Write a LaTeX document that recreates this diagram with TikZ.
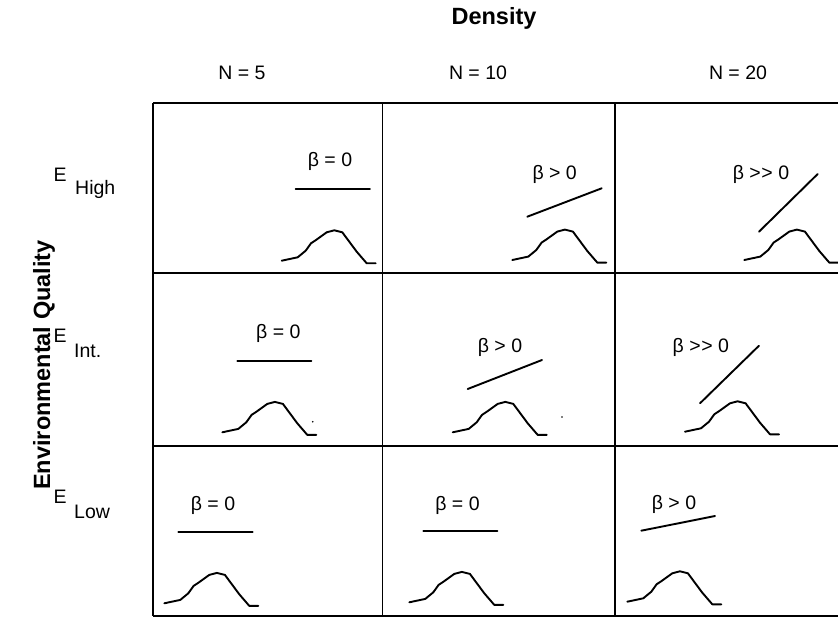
\documentclass[tikz,border=0pt]{standalone}
\usepackage{fontspec}
\setmainfont[Ligatures=NoCommon]{Liberation Sans}
\newcommand\mygg{>\kern0.6pt>}
\begin{document}
\begin{tikzpicture}[x=1pt,y=-1pt,
  gridline/.style={line width=1.3pt},
  hump/.style={line width=1.9pt,line join=round,line cap=round},
  slope/.style={line width=1.9pt,line cap=round},
  lab/.style={inner sep=0pt,anchor=base,font=\fontsize{19.5}{20}\selectfont},
  head/.style={inner sep=0pt,anchor=base,font=\fontsize{19.5}{20}\selectfont},
  axis/.style={inner sep=0pt,anchor=base,font=\fontsize{23.5}{24}\selectfont\bfseries},
  elab/.style={inner sep=0pt,anchor=base west,font=\fontsize{19.5}{20}\selectfont}]
\useasboundingbox (0,0) rectangle (838,617);
\clip (0,0) rectangle (838,617);
\fill[white] (0,0) rectangle (838,617);
% grid
\draw[gridline] (153,103) -- (846,103);
\draw[gridline] (153,273) -- (846,273);
\draw[gridline] (153,446) -- (846,446);
\draw[gridline] (153,616) -- (846,616);
\draw[gridline] (153,103) -- (153,616);
\draw[gridline] (382.5,103) -- (382.5,616);
\draw[gridline] (615,103) -- (615,616);
\newcommand\humpat[2]{\begin{scope}[shift={(#1,#2)}]
  \draw[hump] (0,0) -- (16,-3.4) -- (24,-10) -- (29.3,-17.4) -- (34.3,-20.7) -- (45,-28.4) -- (52.6,-30.4) -- (60.6,-28.4) -- (75,-9) -- (85,2.6) -- (94,2.6);
  \end{scope}}
% headers
\node[axis] (density) at (494,25) {Density};
\node[head] (n5) at (242,80) {N = 5};
\node[head] (n10) at (478,80) {N = 10};
\node[head] (n20) at (738,80) {N = 20};
\node[axis,rotate=90] (envq) at (50,365) {Environmental Quality};
\node[elab] (eh) at (53.5,182) {E};
\node[elab] (ehs) at (75,195) {High};
\node[elab] (ei) at (53.5,343) {E};
\node[elab] (eis) at (74,358) {Int.};
\node[elab] (el) at (53.5,503) {E};
\node[elab] (els) at (74,518) {Low};
% row 1
\humpat{281.7}{260.7}
\draw[slope] (295.7,188.7) -- (370,188.7);
\node[lab] (b11) at (330,166.5) {β = 0};
\humpat{512.3}{260}
\draw[slope] (527.3,216.7) -- (601.7,188.3);
\node[lab] (b12) at (554.7,180) {β > 0};
\humpat{744.3}{260}
\draw[slope] (759,231.7) -- (817.7,174);
\node[lab] (b13) at (761,180) {β \mygg{} 0};
% row 2
\humpat{222.3}{432.3}
\draw[slope] (237.3,360.7) -- (311.3,360.7);
\node[lab] (b21) at (278.3,338.5) {β = 0};
\fill (312.7,421.7) circle (0.9);
\humpat{452.7}{432.3}
\draw[slope] (467.7,389) -- (542,360);
\node[lab] (b22) at (500,352.7) {β > 0};
\fill (562,417) circle (0.9);
\humpat{685}{431.7}
\draw[slope] (700,403.3) -- (759,345.7);
\node[lab] (b23) at (700.8,352.7) {β \mygg{} 0};
% row 3
\humpat{164.3}{603.3}
\draw[slope] (178.3,531.7) -- (252.7,531.7);
\node[lab] (b31) at (213,510) {β = 0};
\humpat{409.3}{602.3}
\draw[slope] (423.3,531) -- (497.3,531);
\node[lab] (b32) at (457.5,510) {β = 0};
\humpat{627.3}{601.7}
\draw[slope] (641.3,530.7) -- (715,516);
\node[lab] (b33) at (674,509) {β > 0};
\end{tikzpicture}
\end{document}
